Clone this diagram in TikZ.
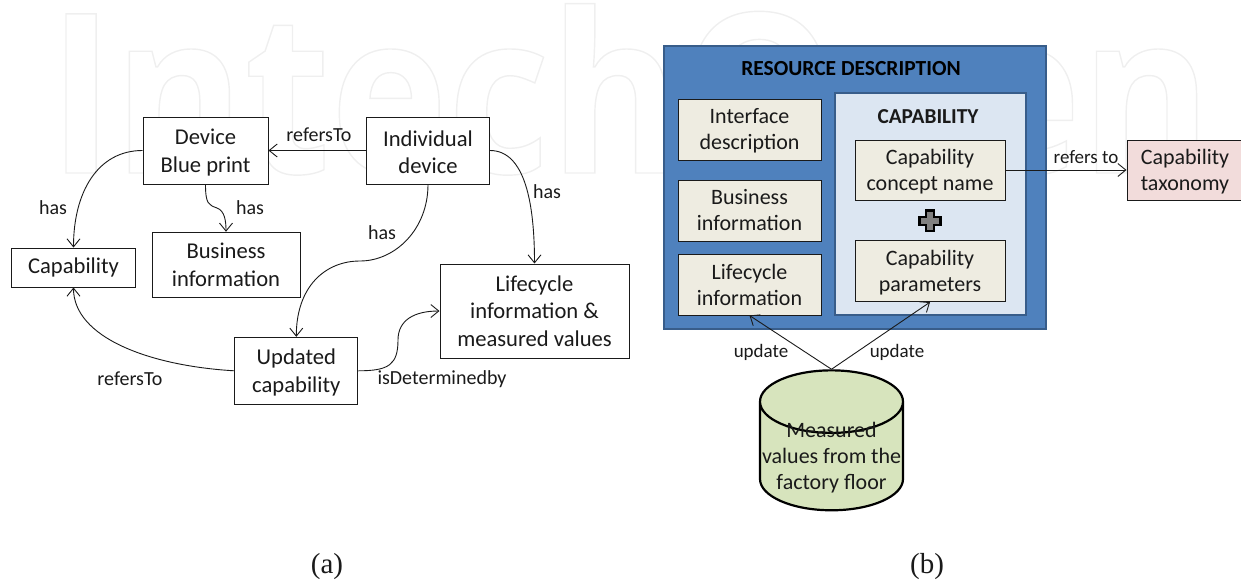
\documentclass[tikz,border=0pt]{standalone}
\usepackage{fontspec}
\setmainfont{Carlito}
\newfontfamily\capfont{Liberation Serif}
\newfontfamily\wmfont[FakeStretch=0.89]{Open Sans}
\usetikzlibrary{shapes.geometric,arrows.meta}
\definecolor{bluefill}{HTML}{4F81BD}
\definecolor{blueedge}{HTML}{385D8A}
\definecolor{panelfill}{HTML}{DCE6F2}
\definecolor{beige}{HTML}{EEECE1}
\definecolor{pinkfill}{HTML}{F2DCDB}
\definecolor{greenfill}{HTML}{D7E4BD}
\definecolor{ink}{HTML}{1A1A1A}
\definecolor{wm}{HTML}{EFEFEF}
\newcommand{\dna}[1]{\rule{0pt}{#1pt}}
\tikzset{
  x=1pt,y=-1pt,
  boxa/.style={draw=ink,line width=1pt,fill=white,inner sep=0pt,align=center,font=\fontsize{22.6}{27.5}\selectfont,text=ink},
  boxb/.style={draw=ink,line width=1pt,fill=beige,inner sep=0pt,align=center,font=\fontsize{22}{26}\selectfont,text=ink},
  lab/.style={inner sep=0pt,text=ink,font=\fontsize{20}{24}\selectfont},
  labb/.style={inner sep=0pt,text=ink,font=\fontsize{19}{22}\selectfont},
  conn/.style={draw=ink,line width=0.9pt,-{Straight Barb[length=8pt,width=13pt,line width=0.9pt]}},
  caption/.style={inner sep=0pt,text=ink,font=\capfont\fontsize{29}{32}\selectfont},
}
\begin{document}
\begin{tikzpicture}
\useasboundingbox (0,0) rectangle (1241,581);
% watermark
\node[anchor=base west,inner sep=0pt,text=wm,font=\wmfont\bfseries\fontsize{223}{223}\selectfont] (wmark) at (48,173)
  {\special{pdf:code 1 Tr 1.4 w}IntechOpen\special{pdf:code 0 Tr 1 w}};
% (a)
\node[boxa,minimum width=125pt,minimum height=67pt] (device) at (205.5,150.5) {\dna{20}Device\\Blue print};
\node[boxa,minimum width=123pt,minimum height=67pt] (indiv) at (428,150.5) {\dna{19}Individual\\device};
\node[boxa,minimum width=124pt,minimum height=39pt] (capa) at (73.5,267.5) {Capability};
\node[boxa,minimum width=148pt,minimum height=65.5pt] (busa) at (226,265) {Business\\information};
\node[boxa,minimum width=189pt,minimum height=94pt] (life) at (534.5,311) {Lifecycle\\information \&\\measured values};
\node[boxa,minimum width=123pt,minimum height=67pt] (upd) at (296.3,370.8) {\dna{19}Updated\\capability};
\coordinate (m1) at (217,208);
\coordinate (m2) at (360,261);
\coordinate (m3) at (398,340);
\draw[conn] (indiv.west) -- (device.east);
\draw[conn] (device.west) .. controls +(-45,0) and +(0,-55) .. (capa.north);
\draw[conn] (device.south) .. controls +(0,20) and +(-8,-3) .. (m1) .. controls +(8,3) and +(0,-10) .. (busa.north);
\draw[conn] (indiv.south) .. controls +(0,45) and +(35,0) .. (m2) .. controls +(-35,0) and +(0,-50) .. (upd.north);
\draw[conn] (indiv.east) .. controls +(35,0) and +(0,-60) .. (life.north);
\draw[conn] (upd.west) .. controls +(-85,-5) and +(0,50) .. (capa.south);
\draw[conn] (upd.east) .. controls +(30,0) and +(0,25) .. (m3) .. controls +(0,-20) and +(-25,0) .. (life.west);
\node[lab] (l1) at (319,135) {refersTo};
\node[lab] (l2) at (53,208) {has};
\node[lab] (l3) at (250,208) {has};
\node[lab] (l4) at (547,192) {has};
\node[lab] (l5) at (382,233) {has};
\node[lab] (l6) at (130,379) {refersTo};
\node[lab] (l7) at (442,379) {isDeterminedby};
% (b)
\node[draw=blueedge,line width=2.6pt,fill=bluefill,minimum width=382pt,minimum height=283pt,inner sep=0pt] (outer) at (855,187.5) {};
\node[draw=blueedge,line width=2.6pt,fill=panelfill,minimum width=191pt,minimum height=221.7pt,inner sep=0pt] (panel) at (930.5,204) {};
\node[inner sep=0pt,text=black,font=\bfseries\fontsize{21.5}{24}\selectfont] (t1) at (851,69) {RESOURCE DESCRIPTION};
\node[inner sep=0pt,text=ink,font=\bfseries\fontsize{21.3}{24}\selectfont] (t2) at (928,116.3) {CAPABILITY};
\node[boxb,minimum width=143pt,minimum height=60.5pt] (iface) at (749.5,130) {\dna{16}Interface\\description};
\node[boxb,minimum width=143pt,minimum height=61pt] (busb) at (749.5,210.5) {Business\\information};
\node[boxb,minimum width=143pt,minimum height=61pt] (lifeb) at (749.5,284.5) {Lifecycle\\information};
\node[boxb,minimum width=150pt,minimum height=60pt] (concept) at (930,170) {\dna{18}Capability\\concept name};
\node[boxb,minimum width=150pt,minimum height=60.7pt] (params) at (930,271.3) {\dna{17}Capability\\parameters};
\node[boxb,fill=pinkfill,minimum width=116pt,minimum height=60pt] (tax) at (1185,170) {\dna{18}Capability\\taxonomy};
\draw[draw=black,line width=2.2pt,fill=gray,line join=miter]
  (926,210.5) -- (934,210.5) -- (934,217) -- (940.5,217) -- (940.5,225) -- (934,225) -- (934,231) -- (926,231) -- (926,225) -- (919.5,225) -- (919.5,217) -- (926,217) -- cycle;
\node[cylinder,shape border rotate=90,aspect=0.45,draw=black,line width=2.2pt,fill=greenfill,minimum width=143pt,minimum height=117pt,inner sep=0pt,text=ink,font=\fontsize{22}{26}\selectfont] (cyl) at (831.5,456.5) {\raisebox{-6.5pt}[22.5pt][22.5pt]{\parbox[c]{139pt}{\centering Measured\\values from the\\factory floor}}};
\draw[conn] (concept.east) -- (tax.west);
\draw[conn] (cyl.top) -- (lifeb.south);
\draw[conn] (cyl.top) -- (params.south);
\node[labb] (l8) at (1086,157) {refers to};
\node[labb] (l9) at (761,352) {update};
\node[labb] (l10) at (897,352) {update};
\node[caption] (ca) at (327,567) {(a)};
\node[caption] (cb) at (927,567) {(b)};
\end{tikzpicture}
\end{document}
